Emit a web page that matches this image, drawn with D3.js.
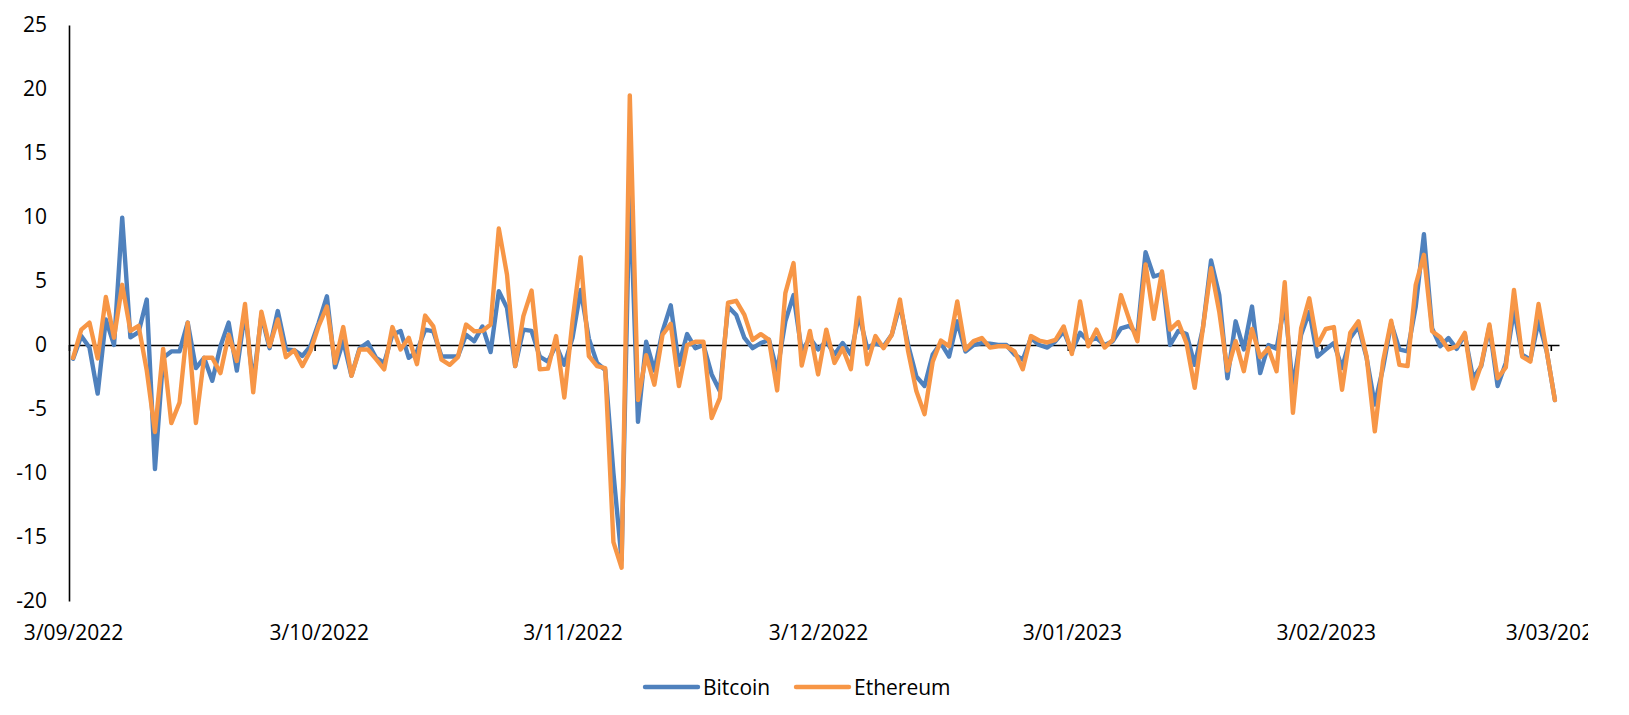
<!DOCTYPE html>
<html lang="en">
<head>
    <meta charset="UTF-8"/>
    <title>Bitcoin vs Ethereum daily returns</title>
    <script src="https://d3js.org/d3.v7.min.js"></script>
    <style>
        body { margin: 0; background: #fff; }
        text { font-family: "Open Sans", sans-serif; }
    </style>
</head>
<body>
<script>
    // daily % change, 3 Sep 2022 to 3 Mar 2023
    var startDay = new Date(2022, 8, 3);

    var bitcoin = [
        -1.07, 0.7, -0.2, -3.8, 2.0, 0, 9.95, 0.6, 1.0, 3.55,
        -9.7, -1.0, -0.5, -0.5, 1.75, -1.8, -1.0, -2.8, -0.1, 1.75,
        -2.0, 2.6, -3.0, 2.3, -0.25, 2.65, -0.35, -0.4, -0.85, -0.1,
        1.75, 3.8, -1.75, 0.3, -2.4, -0.25, 0.2, -1.0, -1.4, 0.8,
        1.1, -1.0, -0.5, 1.2, 1.07, -0.9, -0.9, -0.9, 0.8, 0.3,
        1.45, -0.55, 4.2, 2.9, -1.65, 1.2, 1.1, -0.9, -1.3, 0,
        -1.55, 0.55, 4.3, 0.5, -1.4, -1.95, -10.0, -16.8, 12.5, -6.0,
        0.25, -2.0, 1.07, 3.1, -1.55, 0.85, -0.25, 0, -2.3, -3.6,
        3.0, 2.35, 0.55, -0.25, 0.15, 0.4, -2.05, 1.85, 3.9, -0.5,
        0.55, -0.35, 0.3, -0.75, 0.15, -0.75, 2.35, -0.25, 0.15, -0.1,
        0.8, 3.15, 0, -2.45, -3.2, -0.75, 0.15, -0.9, 1.85, -0.5,
        0, 0.15, 0.1, 0, 0, -0.75, -1.15, 0.55, 0, -0.2,
        0.3, 1.07, -0.5, 0.95, 0.3, 0.55, 0, 0.3, 1.3, 1.5,
        0.85, 7.25, 5.35, 5.55, 0, 1.1, 0.85, -1.55, 1.3, 6.6,
        3.9, -2.6, 1.85, -0.35, 3.0, -2.2, 0, -0.3, 3.3, -3.35,
        0.8, 2.6, -0.9, -0.35, 0.15, -1.8, 0.55, 1.45, -1.0, -4.65,
        -1.8, 1.7, -0.35, -0.5, 3.0, 8.65, 1.3, -0.1, 0.55, -0.3,
        0.8, -2.6, -1.65, 1.45, -3.2, -1.4, 2.75, -0.75, -1.15, 1.85,
        -0.5, -4.3
    ];

    var ethereum = [
        -1.0, 1.2, 1.75, -1.05, 3.75, 0.57, 4.7, 1.1, 1.5, -2.0,
        -6.8, -0.3, -6.1, -4.5, 1.75, -6.1, -1.0, -1.0, -2.2, 0.8,
        -1.25, 3.2, -3.7, 2.6, -0.1, 2.0, -0.95, -0.4, -1.65, -0.45,
        1.5, 3.0, -1.4, 1.4, -2.4, -0.35, -0.35, -1.1, -1.9, 1.4,
        -0.35, 0.57, -1.5, 2.3, 1.45, -1.15, -1.55, -0.95, 1.6, 1.07,
        1.1, 1.6, 9.1, 5.5, -1.65, 2.25, 4.25, -1.9, -1.85, 0.7,
        -4.1, 1.85, 6.85, -0.86, -1.65, -1.8, -15.4, -17.4, 19.5, -4.3,
        -0.8, -3.1, 0.8, 1.65, -3.2, 0, 0.25, 0.25, -5.7, -4.15,
        3.3, 3.45, 2.35, 0.4, 0.85, 0.4, -3.55, 4.05, 6.4, -1.6,
        1.1, -2.3, 1.2, -1.4, -0.25, -1.9, 3.7, -1.5, 0.7, -0.25,
        0.8, 3.55, -0.5, -3.6, -5.4, -1.3, 0.35, -0.1, 3.4, -0.35,
        0.3, 0.55, -0.2, -0.1, -0.1, -0.5, -1.9, 0.7, 0.35, 0.2,
        0.4, 1.45, -0.7, 3.4, -0.1, 1.2, -0.2, 0.4, 3.9, 2.0,
        0.3, 6.3, 2.05, 5.75, 1.2, 1.8, 0.15, -3.35, 1.3, 6.0,
        2.6, -2.0, 0.3, -2.05, 1.25, -0.95, -0.25, -2.05, 4.9, -5.3,
        1.3, 3.65, 0, 1.25, 1.4, -3.5, 0.95, 1.85, -0.9, -6.75,
        -1.3, 1.9, -1.55, -1.65, 4.7, 7.05, 1.07, 0.6, -0.35, -0.1,
        0.95, -3.4, -1.55, 1.6, -2.6, -1.75, 4.3, -0.9, -1.3, 3.2,
        -0.5, -4.3
    ];

    var tickDates = [
        new Date(2022, 8, 3), new Date(2022, 9, 3), new Date(2022, 10, 3),
        new Date(2022, 11, 3), new Date(2023, 0, 3), new Date(2023, 1, 3),
        new Date(2023, 2, 3)
    ];
    var tickLabels = ["3/09/2022", "3/10/2022", "3/11/2022", "3/12/2022",
                      "3/01/2023", "3/02/2023", "3/03/2023"];
    var yTicks = [25, 20, 15, 10, 5, 0, -5, -10, -15, -20];

    var series = [
        { name: "Bitcoin", values: bitcoin, color: "#4F81BD" },
        { name: "Ethereum", values: ethereum, color: "#F79646" }
    ];

    var w = 1629;
    var h = 715;
    var plotLeft = 69, plotRight = 1559, plotTop = 25, plotBottom = 601;

    var halfDay = 12 * 3600 * 1000;
    var lastDay = d3.timeDay.offset(startDay, bitcoin.length - 1);

    var xScale = d3.scaleTime()
                   .domain([new Date(+startDay - halfDay), new Date(+lastDay + halfDay)])
                   .range([plotLeft, plotRight]);

    var yScale = d3.scaleLinear()
                   .domain([-20, 25])
                   .range([plotBottom, plotTop]);

    var svg = d3.select("body")
                .append("svg")
                .attr("width", w)
                .attr("height", h);

    // label strip is cut off on the right like the chart area
    svg.append("clipPath")
       .attr("id", "labelClip")
       .append("rect")
       .attr("x", 0)
       .attr("y", 0)
       .attr("width", 1588)
       .attr("height", h);

    // y axis
    var yAxis = d3.axisLeft(yScale)
                  .tickValues(yTicks)
                  .tickSize(0)
                  .tickPadding(22)
                  .tickFormat(function(d) { return String(d); });

    var gy = svg.append("g")
       .attr("transform", "translate(" + plotLeft + ",0)")
       .call(yAxis);
    gy.select(".domain").attr("stroke", "#000").attr("stroke-width", 1.6);
    gy.selectAll("text").attr("font-size", "21px").attr("fill", "#000");

    // x axis sits on zero, ticks at the start of each month slot
    var xTickAxis = d3.axisBottom(xScale)
                      .tickValues(tickDates.map(function(d) { return new Date(+d - halfDay); }))
                      .tickSizeInner(6)
                      .tickSizeOuter(0)
                      .tickFormat("");

    var gx = svg.append("g")
       .attr("transform", "translate(0," + yScale(0) + ")")
       .call(xTickAxis);
    gx.select(".domain").attr("stroke", "#000").attr("stroke-width", 1.6);
    gx.selectAll(".tick line").attr("stroke", "#000").attr("stroke-width", 1.6);

    // date labels along the bottom
    var xLabelAxis = d3.axisBottom(xScale)
                       .tickValues(tickDates)
                       .tickSize(0)
                       .tickPadding(0)
                       .tickFormat(function(d, i) { return tickLabels[i]; });

    var gl = svg.append("g")
       .attr("clip-path", "url(#labelClip)")
       .append("g")
       .attr("transform", "translate(0," + (plotBottom + 24) + ")")
       .call(xLabelAxis);
    gl.select(".domain").remove();
    gl.selectAll("text").attr("font-size", "21px").attr("fill", "#000");

    var line = d3.line()
                 .x(function(d, i) { return xScale(d3.timeDay.offset(startDay, i)); })
                 .y(function(d) { return yScale(d); });

    svg.selectAll("path.series")
       .data(series)
       .enter()
       .append("path")
       .attr("class", "series")
       .attr("d", function(d) { return line(d.values); })
       .attr("fill", "none")
       .attr("stroke", function(d) { return d.color; })
       .attr("stroke-width", 4.4)
       .attr("stroke-linejoin", "round")
       .attr("stroke-linecap", "round");

    // legend
    var legendX = [645, 796];
    var legend = svg.selectAll("g.legend")
       .data(series)
       .enter()
       .append("g")
       .attr("class", "legend")
       .attr("transform", function(d, i) { return "translate(" + legendX[i] + ",687)"; });

    legend.append("line")
       .attr("x1", 0)
       .attr("x2", 53)
       .attr("y1", 0)
       .attr("y2", 0)
       .attr("stroke", function(d) { return d.color; })
       .attr("stroke-width", 4.4)
       .attr("stroke-linecap", "round");

    legend.append("text")
       .attr("x", 58)
       .attr("y", 7.5)
       .attr("font-size", "21px")
       .attr("fill", "#000")
       .text(function(d) { return d.name; });
</script>
</body>
</html>
